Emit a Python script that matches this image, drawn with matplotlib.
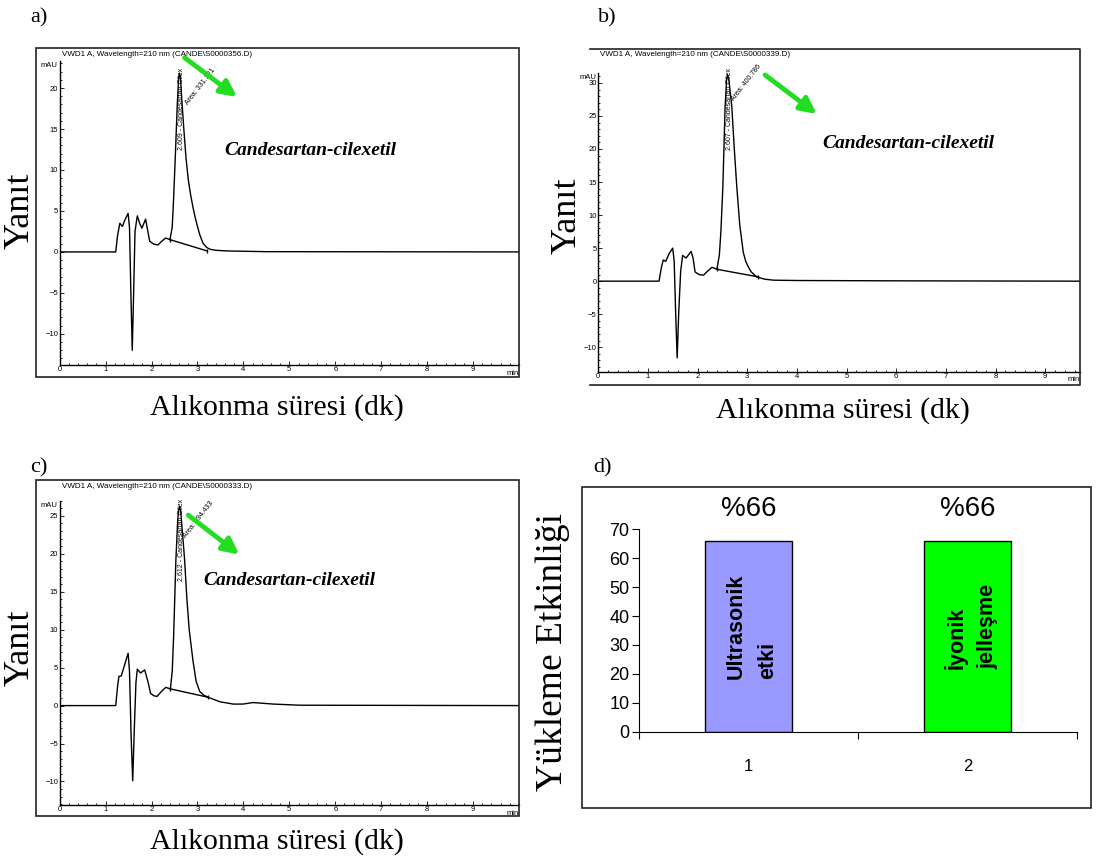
import matplotlib
matplotlib.use('Agg')

import matplotlib.pyplot as plt
import matplotlib.patches as patches
from matplotlib.lines import Line2D
from matplotlib.ticker import MultipleLocator

plt.rcParams['font.family'] = ['Liberation Sans', 'DejaVu Sans']

W, H = 1097, 865
GREEN = '#22dd22'
SERIF = ['Liberation Serif', 'DejaVu Serif']

# chromatogram a (time in min, signal in mAU)
time_a = [0.0, 1.22, 1.26, 1.31, 1.365, 1.42, 1.49, 1.52, 1.55, 1.58, 1.61, 1.64,
          1.69, 1.74, 1.79, 1.87, 1.92, 1.96, 2.05, 2.14, 2.22, 2.31, 2.40, 2.45,
          2.48, 2.52, 2.56, 2.59, 2.61, 2.63, 2.66, 2.70, 2.75, 2.80, 2.85, 2.90,
          2.95, 3.00, 3.05, 3.12, 3.20, 3.27, 3.40, 3.63, 4.5, 10.0]
signal_a = [0, 0, 2.0, 3.5, 3.1, 3.9, 4.7, 3.0, -5.0, -12.0, -5.0, 2.5,
            4.4, 3.5, 2.9, 4.0, 2.5, 1.3, 0.95, 0.85, 1.3, 1.7, 1.5, 3.0,
            6.5, 12.0, 18.0, 21.2, 21.8, 21.2, 18.5, 15.2, 11.5, 8.8, 7.0, 5.5,
            4.2, 3.1, 2.1, 1.06, 0.55, 0.33, 0.2, 0.12, 0.03, 0]
base_time_a = [2.40, 3.21]
base_signal_a = [1.5, 0.12]
yticks_a = [-10, -5, 0, 5, 10, 15, 20]

# chromatogram b
time_b = [0.0, 1.225, 1.27, 1.31, 1.36, 1.43, 1.50, 1.53, 1.56, 1.59, 1.62, 1.66,
          1.70, 1.77, 1.87, 1.91, 1.95, 2.03, 2.12, 2.20, 2.29, 2.39, 2.44, 2.47,
          2.51, 2.555, 2.585, 2.607, 2.63, 2.66, 2.69, 2.74, 2.79, 2.85, 2.92, 2.97,
          3.02, 3.08, 3.19, 3.35, 3.53, 4.0, 6.0, 9.7]
signal_b = [0, 0, 2.0, 3.2, 3.0, 4.2, 5.0, 3.0, -5.0, -11.6, -5.0, 1.5,
            3.9, 3.5, 4.5, 3.5, 1.4, 1.0, 0.9, 1.5, 2.1, 1.8, 4.0, 7.5,
            14.3, 26.4, 30.5, 31.2, 30.5, 28.5, 26.4, 20.0, 14.3, 8.5, 4.4, 3.0,
            2.2, 1.4, 0.65, 0.3, 0.15, 0.1, 0.05, 0]
base_time_b = [2.39, 3.22]
base_signal_b = [1.8, 0.65]
yticks_b = [-10, -5, 0, 5, 10, 15, 20, 25, 30]

# chromatogram c
time_c = [0.0, 1.22, 1.26, 1.29, 1.34, 1.42, 1.49, 1.52, 1.555, 1.59, 1.625, 1.66,
          1.69, 1.76, 1.85, 1.92, 1.98, 2.05, 2.12, 2.22, 2.31, 2.41, 2.45, 2.48,
          2.53, 2.57, 2.595, 2.612, 2.635, 2.67, 2.72, 2.77, 2.82, 2.90, 2.97, 3.05,
          3.13, 3.23, 3.49, 3.78, 3.99, 4.21, 4.65, 5.23, 10.0]
signal_c = [0, 0, 2.5, 3.85, 3.9, 5.5, 6.9, 4.5, -4.0, -9.9, -3.0, 3.0,
            4.8, 4.3, 4.7, 3.2, 1.6, 1.3, 1.2, 1.9, 2.4, 2.2, 4.5, 9.0,
            19.2, 24.5, 25.9, 26.2, 25.6, 23.0, 19.2, 14.0, 10.0, 6.0, 3.2, 1.85,
            1.4, 1.1, 0.5, 0.2, 0.2, 0.4, 0.2, 0.05, 0]
base_time_c = [2.41, 3.23]
base_signal_c = [2.2, 1.1]
yticks_c = [-10, -5, 0, 5, 10, 15, 20, 25]

files = ['S0000356.D', 'S0000339.D', 'S0000333.D']
retention = ['2.609', '2.607', '2.612']
areas = ['331.121', '400.786', '394.433']

# loading efficiency (d)
methods = ['1', '2']
efficiency = [66, 66]
bar_labels = ['Ultrasonik\netki', 'İyonik\njelleşme']
bar_colors = ['#9999ff', '#00ff00']


def px_axes(fig, left, top, right, bottom):
    return fig.add_axes([left / W, 1 - bottom / H, (right - left) / W, (bottom - top) / H])


def frame(fig, left, top, right, bottom):
    fig.add_artist(patches.Rectangle(
        (left / W, 1 - bottom / H), (right - left) / W, (bottom - top) / H,
        transform=fig.transFigure, fill=False, edgecolor='#222222', linewidth=1.2))


def open_frame(fig, left, top, right, bottom):
    # frame cut off on the left side (cropped screenshot)
    xs = [left / W, right / W, right / W, left / W]
    ys = [1 - top / H, 1 - top / H, 1 - bottom / H, 1 - bottom / H]
    fig.add_artist(Line2D(xs, ys, transform=fig.transFigure, color='#222222', linewidth=1.2))


def fig_text(fig, x, y, s, **kw):
    fig.text(x / W, 1 - y / H, s, **kw)


def draw_chrom(ax, t, v, bt, bv, xmax, ylim, yticks, rt, area,
               rt_pos, area_pos, arrow_from, arrow_to, name_pos):
    ax.plot(t, v, color='black', linewidth=1.0)
    ax.plot(bt, bv, color='black', linewidth=1.0, marker='|', markersize=3)
    ax.set_xlim(-0.004, xmax)
    ax.set_ylim(*ylim)
    ax.set_xticks(range(0, 10))
    ax.xaxis.set_minor_locator(MultipleLocator(0.2))
    ax.set_yticks(yticks)
    ax.yaxis.set_minor_locator(MultipleLocator(1))
    for s in ['top', 'right']:
        ax.spines[s].set_visible(False)
    for s in ['left', 'bottom']:
        ax.spines[s].set_linewidth(1.0)
    ax.tick_params(which='both', direction='in', labelsize=5.5, pad=1, width=0.6)
    ax.tick_params(which='major', length=3)
    ax.tick_params(which='minor', length=1.5)
    ax.text(1.0, -0.015, 'min', transform=ax.transAxes, ha='right', va='top', fontsize=5.5)
    ax.text(-0.004, 0.985, 'mAU', transform=ax.transAxes, ha='right', va='center', fontsize=5.5)
    ax.text(rt_pos[0], rt_pos[1], f'{rt} - Candesartan Cilex', rotation=90,
            ha='center', va='bottom', fontsize=5)
    ax.text(area_pos[0], area_pos[1], f'Area: {area}', rotation=52,
            rotation_mode='anchor', ha='left', va='center', fontsize=5)
    ax.annotate('', xy=arrow_to, xytext=arrow_from, annotation_clip=False,
                arrowprops=dict(arrowstyle='-|>', color=GREEN, lw=3.5,
                                mutation_scale=24, shrinkA=0, shrinkB=0))
    ax.text(name_pos[0], name_pos[1], 'Candesartan-cilexetil', family=SERIF,
            fontsize=14, fontweight='bold', fontstyle='italic', ha='center', va='center')


fig = plt.figure(figsize=(W / 100, H / 100), dpi=100)

# a)
frame(fig, 36, 48, 519, 377)
ax_a = px_axes(fig, 59.5, 61, 519, 365)
draw_chrom(ax_a, time_a, signal_a, base_time_a, base_signal_a, 10, (-13.8, 23.3), yticks_a,
           retention[0], areas[0], (2.65, 12.4), (2.76, 18.1), (2.72, 23.7), (3.86, 18.9), (5.45, 12.4))
fig_text(fig, 62, 55, f'VWD1 A, Wavelength=210 nm (CANDE\\{files[0]})', fontsize=5.8, va='center')

# b)
open_frame(fig, 590, 49, 1080, 385)
ax_b = px_axes(fig, 598, 73, 1080, 371.7)
draw_chrom(ax_b, time_b, signal_b, base_time_b, base_signal_b, 9.7, (-13.7, 31.5), yticks_b,
           retention[1], areas[1], (2.64, 19.8), (2.72, 27.4), (3.36, 31.2), (4.40, 25.3), (6.24, 20.9))
fig_text(fig, 600, 55, f'VWD1 A, Wavelength=210 nm (CANDE\\{files[1]})', fontsize=5.8, va='center')

# c)
frame(fig, 36, 480, 519, 816)
ax_c = px_axes(fig, 59.5, 500.7, 519, 805)
draw_chrom(ax_c, time_c, signal_c, base_time_c, base_signal_c, 10, (-13.1, 27.0), yticks_c,
           retention[2], areas[2], (2.65, 16.4), (2.72, 22.2), (2.80, 25.1), (3.91, 19.9), (5.01, 16.5))
fig_text(fig, 62, 486.7, f'VWD1 A, Wavelength=210 nm (CANDE\\{files[2]})', fontsize=5.8, va='center')

# d)
frame(fig, 581.7, 487.3, 1090.7, 808.3)
ax_d = px_axes(fig, 639.3, 529.3, 1076.7, 731.7)
xpos = [1, 2]
ax_d.bar(xpos, efficiency, width=0.4, color=bar_colors, edgecolor='black', linewidth=1.0)
ax_d.set_xlim(0.5, 2.5)
ax_d.set_ylim(0, 70)
ax_d.set_yticks(range(0, 71, 10))
ax_d.set_xticks([0.5, 1.5, 2.5])
ax_d.set_xticklabels([])
ax_d.set_xticks(xpos, minor=True)
ax_d.set_xticklabels(methods, minor=True)
ax_d.tick_params(axis='x', which='minor', length=0, pad=20, labelsize=12)
ax_d.tick_params(axis='x', which='major', length=5, direction='out')
ax_d.tick_params(axis='y', length=5, labelsize=13, pad=2)
for s in ['top', 'right']:
    ax_d.spines[s].set_visible(False)
for xi, val, lab in zip(xpos, efficiency, bar_labels):
    ax_d.text(xi, val + 11, f'%{val}', ha='center', va='center', fontsize=20, clip_on=False)
    ax_d.text(xi + 0.015, val * 0.55, lab, rotation=90, ha='center', va='center', fontsize=15.5,
              fontweight='bold', multialignment='left', linespacing=1.6)

# panel letters and axis titles
fig_text(fig, 30, 18, 'a)', family=SERIF, fontsize=16, va='center')
fig_text(fig, 598, 18, 'b)', family=SERIF, fontsize=16, va='center')
fig_text(fig, 30, 468, 'c)', family=SERIF, fontsize=16, va='center')
fig_text(fig, 593, 468, 'd)', family=SERIF, fontsize=16, va='center')

for x, y in [(20, 211), (567, 216), (20, 648)]:
    fig_text(fig, x, y, 'Yanıt', family=SERIF, fontsize=26, rotation=90, ha='center', va='center')
for x, y in [(277, 408), (843, 411), (277, 842)]:
    fig_text(fig, x, y, 'Alıkonma süresi (dk)', family=SERIF, fontsize=21.5, ha='center', va='center')
fig_text(fig, 553, 652, 'Yükleme Etkinliği', family=SERIF, fontsize=27, rotation=90, ha='center', va='center')

plt.savefig('out.png', dpi=100, facecolor='white')
plt.close()
